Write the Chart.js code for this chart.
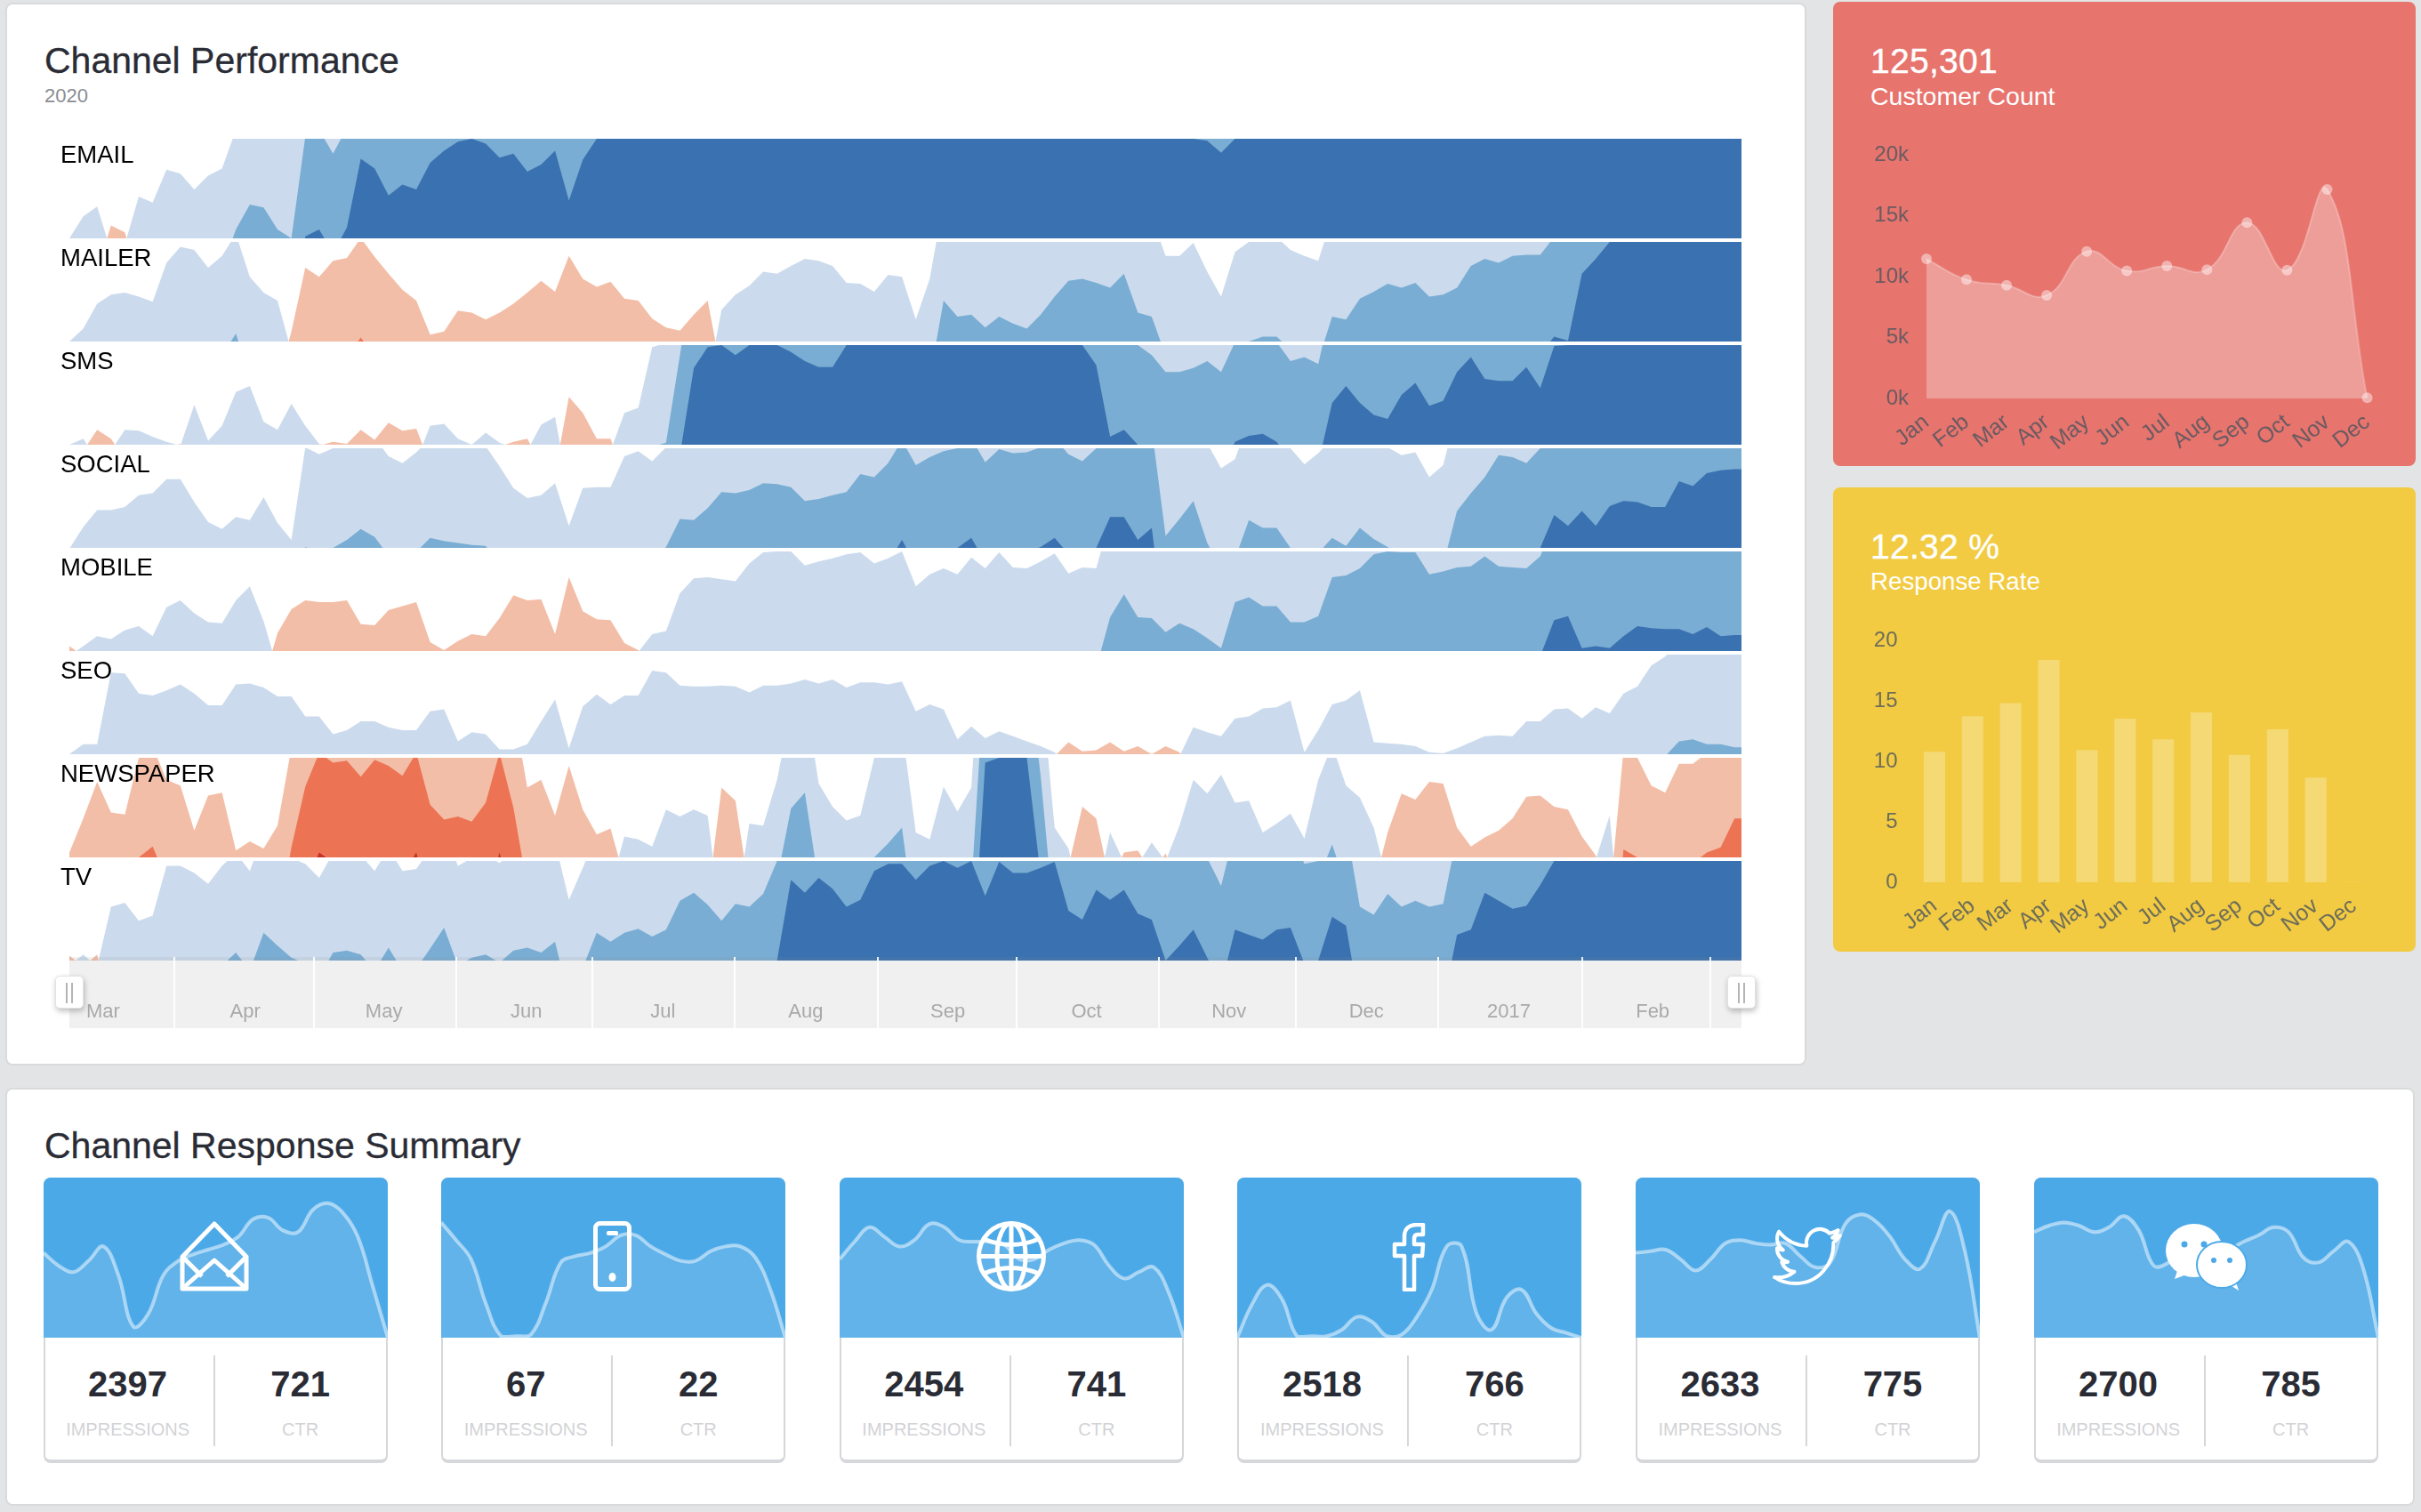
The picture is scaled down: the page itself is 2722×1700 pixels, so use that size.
<!DOCTYPE html>
<html>
<head>
<meta charset="utf-8">
<title>Channel Performance</title>
<script src="https://cdn.jsdelivr.net/npm/chart.js@4/dist/chart.umd.min.js"></script>
<style>
  html, body { margin: 0; padding: 0; background: #e3e4e6; }
  body { width: 2722px; height: 1700px; position: relative; overflow: hidden; font-family: "Liberation Sans", Arial, sans-serif; }
  .abs, canvas, .panel, .txt, svg { position: absolute; }
  .panel { background: #fff; border: 2px solid #d9dadc; border-radius: 8px; box-sizing: border-box; }
  .txt { line-height: 1; white-space: nowrap; }
  .title { font-size: 41px; color: #2a2c35; -webkit-text-stroke: 0.3px #2a2c35; }
  .strip-label { font-size: 27.5px; color: #000; left: 68px; }
  .tile { border-radius: 8px; }
  .big { font-size: 39px; color: #fff; left: 2103px; -webkit-text-stroke: 0.4px #fff; letter-spacing: 0.3px; }
  .sub { font-size: 28.5px; color: #fff; left: 2103px; }
  .card { position: absolute; top: 1324px; width: 387px; height: 321px; box-sizing: border-box; background: #fff; border: 2px solid #d6d7da; border-bottom-width: 4px; border-radius: 8px; }
  .card-head { position: absolute; left: -2px; top: -2px; width: 387px; height: 180px; background: #4ca9e8; border-radius: 8px 8px 0 0; }
  .num { font-size: 40px; font-weight: bold; color: #2a2c35; transform: translateX(-50%); }
  .cap { font-size: 20px; color: #d2d3d6; transform: translateX(-50%); }
  .divider { position: absolute; left: 189px; top: 198px; width: 2px; height: 102px; background: #d6d7da; }
  .handle { position: absolute; top: 1097px; width: 32px; height: 37px; box-sizing: border-box; background: #fff; border: 1px solid #e2e2e2; border-radius: 5px; box-shadow: 1px 3px 6px rgba(0,0,0,.25); }
  .handle i { position: absolute; top: 7px; width: 2px; height: 23px; background: #b4b4b4; }
</style>
</head>
<body>

<div class="panel" style="left:6px;top:3px;width:2025px;height:1195px"></div>
<div class="txt title" style="left:50px;top:48px">Channel Performance</div>
<div class="txt" style="left:50px;top:97px;font-size:22px;color:#8a8d93">2020</div>

<div class="abs" style="left:78px;top:1080px;width:1880px;height:76px;background:#f0f0f0"></div>
<div class="abs" id="strips"></div>
<div class="abs" style="left:78px;top:1076px;width:1880px;height:4px;background:rgba(140,140,140,.12)"></div>
<canvas id="axisChart" width="1880" height="80" style="left:78px;top:1076px"></canvas>
<div class="handle" style="left:62px"><i style="left:11px"></i><i style="left:17px"></i></div>
<div class="handle" style="left:1942px"><i style="left:11px"></i><i style="left:17px"></i></div>

<div class="abs tile" style="left:2061px;top:2px;width:655px;height:522px;background:#e7746d"></div>
<div class="txt big" style="top:49px">125,301</div>
<div class="txt sub" style="top:94px">Customer Count</div>
<canvas id="customerChart" width="612" height="382" style="left:2080px;top:140px"></canvas>

<div class="abs tile" style="left:2061px;top:548px;width:655px;height:522px;background:#f2cb42"></div>
<div class="txt big" style="top:595px">12.32 %</div>
<div class="txt sub" style="top:640px;font-size:27.7px">Response Rate</div>
<canvas id="responseChart" width="600" height="380" style="left:2080px;top:686px"></canvas>

<div class="panel" style="left:6px;top:1223px;width:2709px;height:470px"></div>
<div class="txt title" style="left:50px;top:1268px">Channel Response Summary</div>
<div class="abs" id="cards"></div>

<script>
// horizon strips: one value every 3 days, 100 units = one band, negative = red side
const stripNames = ["EMAIL", "MAILER", "SMS", "SOCIAL", "MOBILE", "SEO", "NEWSPAPER", "TV"];
const emailValues = [
  0,22,32,-13,-6,42,36,69,65,49,
  63,70,109,134,131,109,100,202,209,185,
  211,280,270,243,254,249,276,288,297,300,
  295,281,285,267,274,288,238,279,300,300,
  300,300,300,300,300,300,300,300,300,300,
  300,300,300,300,300,300,300,300,300,300,
  300,300,300,300,300,300,300,300,300,300,
  300,300,300,300,300,300,300,300,300,300,
  300,300,298,286,300,300,300,300,300,300,
  300,300,300,300,300,300,300,300,300,300,
  300,300,300,300,300,300,300,300,300,300,
  300,300,300,300,300,300,300,300,300,300,
  300,300,
];
const mailerValues = [
  0,13,38,47,49,45,40,79,95,92,
  74,86,108,65,49,41,-10,-74,-65,-81,
  -84,-104,-85,-68,-52,-41,-7,-10,-31,-29,
  -22,-29,-38,-49,-61,-50,-86,-63,-55,-60,
  -43,-41,-23,-14,-11,-27,-41,32,47,56,
  70,68,76,83,81,76,59,58,50,67,
  65,22,63,141,125,127,114,125,118,113,
  127,145,161,163,159,154,168,129,125,86,
  86,99,70,45,90,100,105,105,92,86,
  81,125,122,143,150,158,154,159,145,147,
  154,176,183,179,186,187,187,205,201,268,
  283,300,300,300,300,300,300,300,300,300,
  300,300,
];
const smsValues = [
  0,6,-15,-6,15,14,8,3,-1,40,
  4,19,53,59,23,15,41,19,1,-3,
  -1,-15,-5,-22,-14,-16,19,21,6,0,
  12,2,-3,-6,20,28,-48,-32,-6,-6,
  32,37,98,102,190,277,298,300,290,300,
  300,300,293,284,278,278,300,300,300,300,
  300,300,300,300,300,300,300,300,300,300,
  300,300,300,300,280,208,215,200,190,173,
  173,177,184,173,203,209,211,203,184,188,
  181,242,259,242,230,226,250,262,239,244,
  273,288,266,264,264,278,257,299,300,300,
  300,300,300,300,300,300,300,300,300,300,
  300,300,
];
const socialValues = [
  -1,21,38,38,41,53,55,69,69,46,
  26,19,31,28,51,25,8,101,94,100,
  108,119,111,92,85,96,110,107,105,103,
  102,82,60,50,53,65,22,60,61,61,
  92,97,87,101,129,128,140,156,155,158,
  165,164,161,147,149,153,156,174,171,185,
  208,183,191,197,200,210,186,199,195,196,
  201,210,194,187,200,231,231,208,220,112,
  129,147,105,80,89,128,120,120,100,84,
  95,110,102,120,109,101,93,96,71,83,
  137,155,171,193,191,185,200,233,222,237,
  222,242,247,246,241,241,267,262,275,278,
  279,279,
];
const mobileValues = [
  -5,5,15,12,21,25,15,44,51,38,
  29,28,51,65,30,-18,-42,-51,-49,-49,
  -51,-27,-26,-41,-45,-49,-9,-1,-10,-17,
  -15,-33,-56,-51,-52,-17,-74,-40,-32,-31,
  -8,-1,17,20,58,73,74,72,70,88,
  99,100,100,86,90,93,97,99,88,93,
  100,65,77,83,77,94,83,99,84,83,
  90,98,78,84,83,134,157,134,133,119,
  128,122,113,103,149,154,145,145,129,129,
  135,174,176,183,197,200,199,199,177,180,
  184,185,195,185,184,183,195,231,235,203,
  205,203,215,225,223,222,222,217,224,215,
  216,216,
];
const seoValues = [
  0,10,10,82,81,61,59,64,70,61,
  49,49,70,71,67,58,58,38,38,20,
  24,33,33,27,24,24,43,45,13,22,
  20,5,5,10,33,55,6,48,60,50,
  59,59,84,82,69,68,68,69,68,62,
  69,69,71,75,71,75,67,72,72,70,
  73,43,50,45,15,28,16,23,18,13,
  8,2,-12,-3,-4,-12,-3,-8,0,-8,
  -2,27,22,18,36,38,46,47,54,2,
  24,50,54,64,12,11,10,8,2,1,
  6,12,18,19,18,33,33,45,46,36,
  47,41,61,68,89,98,113,115,110,110,
  107,107,
];
const newspaperValues = [
  -5,-39,-76,-45,-43,-100,-111,-78,-72,-27,
  -62,-65,-7,-16,-9,-32,-110,-171,-205,-195,
  -197,-181,-198,-192,-182,-205,-153,-138,-141,-136,
  -155,-205,-150,-70,-78,-42,-92,-48,-23,-29,
  21,18,11,48,41,48,42,-70,-57,34,
  32,78,149,165,74,51,37,42,100,114,
  130,25,18,71,46,70,295,300,300,300,
  181,30,9,-51,-39,25,-5,-7,15,-4,
  32,78,64,83,55,57,25,34,44,19,
  78,113,72,60,30,-25,-64,-58,-76,-74,
  -30,-11,-20,-27,-39,-61,-62,-51,-48,-21,
  -2,42,-108,-100,-72,-65,-94,-94,-105,-110,
  -139,-139,
];
const tvValues = [
  -5,6,-6,54,58,40,45,95,95,88,
  77,95,108,90,128,115,103,97,83,108,
  110,106,90,113,90,92,112,133,95,103,
  106,98,110,113,108,119,61,93,128,119,
  128,132,124,131,160,168,156,140,157,154,
  167,200,281,268,283,272,254,261,290,297,
  297,281,295,300,293,300,265,299,288,288,
  293,299,250,241,271,261,271,247,241,200,
  215,231,203,175,231,226,221,231,233,197,
  200,244,235,154,146,167,154,160,154,157,
  226,231,268,260,252,255,276,300,300,300,
  300,300,300,300,300,300,300,300,300,300,
  300,300,
];
const stripValues = [emailValues, mailerValues, smsValues, socialValues, mobileValues, seoValues, newspaperValues, tvValues];

// slider axis, in days from the left edge of the strips
const monthStarts = [22.7, 52.9, 83.7, 113.1, 143.9, 174.8, 204.7, 235.6, 265.1, 296, 327, 354.8];
const monthLabelDays = [7.3, 38, 68, 98.8, 128.3, 159.2, 189.9, 219.9, 250.7, 280.4, 311.2, 342.3];
const monthLabels = ["Mar", "Apr", "May", "Jun", "Jul", "Aug", "Sep", "Oct", "Nov", "Dec", "2017", "Feb"];

const months = ["Jan", "Feb", "Mar", "Apr", "May", "Jun", "Jul", "Aug", "Sep", "Oct", "Nov", "Dec"];
const customerCounts = [11470, 9770, 9300, 8480, 12080, 10490, 10900, 10590, 14450, 10540, 17170, 50];
const responseRates = [10.78, 13.73, 14.82, 18.39, 10.93, 13.52, 11.81, 14.04, 10.52, 12.64, 8.65, 0];

const impressions = [2397, 67, 2454, 2518, 2633, 2700];
const ctrs = [721, 22, 741, 766, 775, 785];
const emailSpark = [53,45,41,48,57,39,7,15,39,48,52,55,58,63,74,75,67,66,80,84,78,63,32,0];
const mobileSpark = [72,61,49,21,1,1,2,22,47,51,53,57,64,64,57,52,48,48,54,57,57,50,30,0];
const webSpark = [49,60,69,63,57,61,71,69,61,60,60,58,49,49,55,59,61,58,45,37,41,44,28,0];
const facebookSpark = [0,21,33,24,1,1,1,5,13,10,1,2,13,30,57,57,15,5,25,30,15,6,3,0];
const twitterSpark = [53,54,55,49,42,49,59,61,59,58,59,51,44,47,71,77,73,63,49,43,60,79,54,0];
const wechatSpark = [66,70,72,70,66,69,76,67,45,47,56,57,53,55,60,64,69,66,50,47,54,60,43,0];
const sparkSeries = [emailSpark, mobileSpark, webSpark, facebookSpark, twitterSpark, wechatSpark];

const blueBands = ["#cbdbed", "#7aadd3", "#3a71b0"];
const redBands = ["#f3bea7", "#ec7454", "#c5302a"];
const daySpan = 361.5;
const tickGrey = "rgba(75,85,95,.8)";

Chart.defaults.font.family = '"Liberation Sans", Arial, sans-serif';
Chart.defaults.animation = false;
Chart.defaults.responsive = false;
Chart.defaults.events = [];
Chart.defaults.plugins.legend.display = false;
Chart.defaults.plugins.tooltip.enabled = false;

const icons = [
  { left: 202, top: 1373, w: 78, h: 79, svg: '<g fill="none" stroke="#fff" stroke-width="5" stroke-linejoin="round"><path d="M3 40 L39 3 L75 40 V76 H3 Z"/><path d="M3 40 L25 62 M75 40 L53 62 M4 75 L39 44 L74 75"/></g>' },
  { left: 667, top: 1373, w: 43, h: 79, svg: '<rect x="2.5" y="2.5" width="38" height="74" rx="5" fill="none" stroke="#fff" stroke-width="5"/><rect x="15" y="11" width="13" height="5" rx="2" fill="#fff"/><ellipse cx="21.5" cy="63" rx="4" ry="5" fill="#fff"/>' },
  { left: 1098, top: 1373, w: 78, h: 79, svg: '<g fill="none" stroke="#fff" stroke-width="5"><ellipse cx="39" cy="39.5" rx="36.5" ry="37"/><ellipse cx="39" cy="39.5" rx="16" ry="37"/><path d="M39 3 V76 M3 39.5 H75 M8 20 Q39 33 70 20 M8 59 Q39 46 70 59"/></g>' },
  { left: 1565, top: 1375, w: 38, h: 77, svg: '<path d="M14 75 V37 H3 V24 H14 V15 C14 6 20 2 28 2 H35 V13 H29 C26 13 25 15 25 18 V24 H35 L34 37 H25 V75 Z" fill="none" stroke="#fff" stroke-width="4.5" stroke-linejoin="round"/>' },
  { left: 1992, top: 1378, w: 80, h: 69, svg: '<svg viewBox="-1 1 26 22" width="80" height="69" preserveAspectRatio="none"><path d="M23.95 4.57a10 10 0 0 1-2.82.77 4.96 4.96 0 0 0 2.16-2.72c-.95.55-2 .96-3.12 1.18a4.92 4.92 0 0 0-8.38 4.48C7.69 8.1 4.07 6.13 1.64 3.16a4.93 4.93 0 0 0 1.52 6.57 4.9 4.9 0 0 1-2.23-.61v.06a4.92 4.92 0 0 0 3.95 4.83 4.9 4.9 0 0 1-2.21.08 4.93 4.93 0 0 0 4.6 3.42A9.87 9.87 0 0 1 0 19.54a13.94 13.94 0 0 0 7.55 2.21c9.05 0 14-7.5 14-14v-.64a9.9 9.9 0 0 0 2.4-2.54z" fill="none" stroke="#fff" stroke-width="1.3" stroke-linejoin="round"/></svg>' },
  { left: 2435, top: 1376, w: 92, h: 75, svg: '<path d="M10 62 L14 50 L26 56 Z" fill="#fff"/><ellipse cx="32" cy="30" rx="32" ry="30" fill="#fff"/><circle cx="21" cy="23" r="3.5" fill="#4ca9e8"/><circle cx="43" cy="23" r="3.5" fill="#4ca9e8"/><path d="M82 75 L78 62 L68 66 Z" fill="#fff"/><ellipse cx="63" cy="46" rx="28" ry="26" fill="#fff" stroke="#4ca9e8" stroke-width="2"/><circle cx="54" cy="41" r="3" fill="#4ca9e8"/><circle cx="72" cy="41" r="3" fill="#4ca9e8"/>' },
];

function hideScales() {
  return { x: { type: "linear", display: false, min: 0, max: daySpan }, y: { display: false, min: 0, max: 100 } };
}

function buildStrips() {
  const holder = document.getElementById("strips");
  stripNames.forEach((name, s) => {
    const top = 156 + s * 116;
    const canvas = document.createElement("canvas");
    canvas.width = 1880;
    canvas.height = 112;
    canvas.style.left = "78px";
    canvas.style.top = top + "px";
    holder.appendChild(canvas);
    const label = document.createElement("div");
    label.className = "txt strip-label";
    label.style.top = top + 4 + "px";
    label.textContent = name;
    holder.appendChild(label);
    const datasets = [];
    [[1, blueBands], [-1, redBands]].forEach(([sign, colors]) => {
      colors.forEach((color, band) => {
        datasets.push({
          data: stripValues[s].map((v, i) => ({ x: i * 3, y: sign * v - band * 100 })),
          backgroundColor: color,
          borderWidth: 0,
          pointRadius: 0,
          tension: 0,
          fill: "origin",
          order: 2 - band,
        });
      });
    });
    new Chart(canvas, {
      type: "line",
      data: { datasets: datasets },
      options: { scales: hideScales(), layout: { padding: 0 } },
    });
  });
}

function buildAxis() {
  new Chart(document.getElementById("axisChart"), {
    type: "line",
    data: { datasets: [] },
    options: {
      layout: { padding: 0 },
      scales: {
        y: { display: false, min: 0, max: 1 },
        x: {
          type: "linear",
          min: 0,
          max: daySpan,
          border: { display: false },
          grid: {
            lineWidth: 2,
            tickLength: 36,
            color: (c) => (monthStarts.includes(c.tick.value) ? "rgba(255,255,255,.9)" : "transparent"),
            tickColor: (c) => (monthStarts.includes(c.tick.value) ? "rgba(255,255,255,.9)" : "transparent"),
          },
          ticks: {
            autoSkip: false,
            maxRotation: 0,
            padding: -31,
            color: "#a9a9a9",
            font: { size: 22 },
            callback: (value) => {
              const at = monthLabelDays.indexOf(value);
              return at >= 0 ? monthLabels[at] : "";
            },
          },
          afterBuildTicks: (axis) => {
            axis.ticks = monthStarts.concat(monthLabelDays).map((v) => ({ value: v }));
          },
          afterFit: (axis) => {
            axis.height = 36;
          },
        },
      },
    },
  });
}

function sideScales(yMax, yStep, yCallback, xOffset, yWidth) {
  return {
    x: {
      offset: xOffset,
      border: { display: false },
      grid: { display: false, drawTicks: false },
      ticks: { color: tickGrey, font: { size: 25 }, minRotation: 38, maxRotation: 38, padding: 12, autoSkip: false },
      afterFit: (axis) => {
        axis.height = 74;
      },
    },
    y: {
      min: 0,
      max: yMax,
      border: { display: false },
      grid: { display: false, drawTicks: false },
      ticks: { color: tickGrey, font: { size: 24 }, stepSize: yStep, padding: 20, callback: yCallback },
      afterFit: (axis) => {
        axis.width = yWidth;
      },
    },
  };
}

function buildSideCharts() {
  new Chart(document.getElementById("customerChart"), {
    type: "line",
    data: {
      labels: months,
      datasets: [{
        data: customerCounts,
        fill: "origin",
        tension: 0.45,
        backgroundColor: "rgba(255,255,255,.3)",
        borderColor: "rgba(255,255,255,.25)",
        borderWidth: 2,
        pointRadius: 6,
        pointBackgroundColor: "rgba(255,255,255,.45)",
        pointBorderWidth: 0,
        clip: false,
      }],
    },
    options: {
      layout: { padding: { left: 0, right: 12 } },
      scales: sideScales(20000, 5000, (v) => v / 1000 + "k", false, 86),
    },
  });
  new Chart(document.getElementById("responseChart"), {
    type: "bar",
    data: {
      labels: months,
      datasets: [{ data: responseRates, backgroundColor: "rgba(255,255,255,.27)", barThickness: 23.5 }],
    },
    options: {
      layout: { padding: { left: 0, right: 12 } },
      scales: sideScales(20, 5, (v) => v, true, 73.5),
    },
  });
}

function buildCards() {
  const holder = document.getElementById("cards");
  sparkSeries.forEach((series, c) => {
    const left = 48.6 + c * 447.6;
    const card = document.createElement("div");
    card.className = "card";
    card.style.left = left + "px";
    card.innerHTML = `
      <div class="card-head"></div>
      <div class="divider"></div>
      <div class="txt num" style="left:93px;top:210px">${impressions[c]}</div>
      <div class="txt cap" style="left:93px;top:271px">IMPRESSIONS</div>
      <div class="txt num" style="left:287px;top:210px">${ctrs[c]}</div>
      <div class="txt cap" style="left:287px;top:271px">CTR</div>
    `;
    holder.appendChild(card);
    const canvas = document.createElement("canvas");
    canvas.width = 387;
    canvas.height = 180;
    canvas.style.left = left + "px";
    canvas.style.top = "1324px";
    holder.appendChild(canvas);
    new Chart(canvas, {
      type: "line",
      data: {
        labels: series.map((v, i) => i),
        datasets: [{
          data: series,
          fill: "origin",
          tension: 0.4,
          backgroundColor: "rgba(255,255,255,.12)",
          borderColor: "rgba(255,255,255,.5)",
          borderWidth: 4,
          pointRadius: 0,
        }],
      },
      options: {
        layout: { padding: 0 },
        scales: { x: { display: false }, y: { display: false, min: 0, max: 100 } },
      },
    });
    const icon = icons[c];
    const wrap = document.createElementNS("http://www.w3.org/2000/svg", "svg");
    wrap.setAttribute("width", icon.w);
    wrap.setAttribute("height", icon.h);
    wrap.style.left = icon.left + "px";
    wrap.style.top = icon.top + "px";
    wrap.innerHTML = icon.svg;
    holder.appendChild(wrap);
  });
}

buildStrips();
buildAxis();
buildSideCharts();
buildCards();
</script>
</body>
</html>
